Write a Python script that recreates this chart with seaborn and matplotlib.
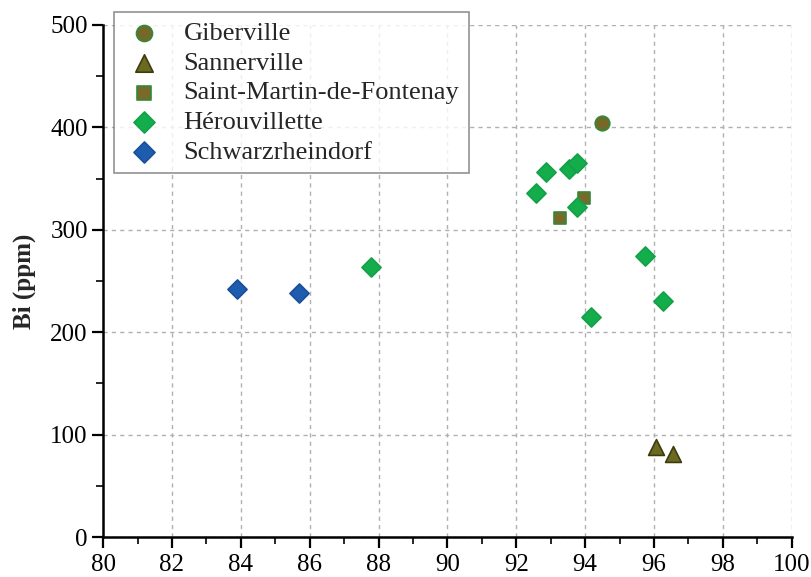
import pandas as pd
import matplotlib.pyplot as plt
import seaborn as sns

# Data (x has no label in the source)
giberville_x = [94.5]
giberville_y = [404]

sannerville_x = [96.05, 96.55]
sannerville_y = [88, 81]

saint_martin_x = [93.27, 93.96]
saint_martin_y = [311, 331]

herouvillette_x = [92.57, 92.86, 93.53, 93.76, 93.76, 87.78, 95.73, 96.26, 94.17]
herouvillette_y = [336, 356, 359, 365, 322, 264, 274, 230, 215]

schwarz_x = [83.89, 85.69]
schwarz_y = [242, 238]

sns.set_theme(style="ticks")
plt.rcParams['font.family'] = ['Liberation Serif', 'DejaVu Serif']

fig = plt.figure(figsize=(8.12, 5.77), dpi=100)
ax = fig.add_axes([0.127, 0.069, 0.848, 0.888])

groups = [
    ("Giberville", giberville_x, giberville_y, "o", "#75692a", "#2f8a3a", 110),
    ("Sannerville", sannerville_x, sannerville_y, "^", "#6b6a1e", "#3c3c10", 130),
    ("Saint-Martin-de-Fontenay", saint_martin_x, saint_martin_y, "s", "#7a6a2a", "#2f8a3a", 85),
    ("Hérouvillette", herouvillette_x, herouvillette_y, "D", "#13ad4b", "#13a048", 95),
    ("Schwarzrheindorf", schwarz_x, schwarz_y, "D", "#1d5cae", "#1a4f98", 95),
]

for name, xs, ys, mk, fc, ec, size in groups:
    df = pd.DataFrame({"x": xs, "y": ys})
    sns.scatterplot(data=df, x="x", y="y", marker=mk, color=fc, edgecolor=ec,
                    linewidth=1.2, s=size, label=name, ax=ax, zorder=3)

ax.set_xlim(80, 100)
ax.set_ylim(0, 500)
ax.set_xticks(range(80, 101, 2))
ax.set_xticks(range(81, 100, 2), minor=True)
ax.set_yticks(range(0, 501, 100))
ax.set_yticks(range(50, 500, 100), minor=True)
ax.set_xlabel("")
ax.set_ylabel("Bi (ppm)", fontsize=18, fontweight="bold", labelpad=10)

ax.grid(True, which="major", color="#b0b0b0", linestyle=(0, (3, 3)), linewidth=1)
ax.set_axisbelow(True)

for side in ["top", "right"]:
    ax.spines[side].set_visible(False)
for side in ["left", "bottom"]:
    ax.spines[side].set_linewidth(1.8)
    ax.spines[side].set_color("black")

ax.tick_params(axis="both", which="major", direction="out", length=8, width=1.6,
               labelsize=18, colors="black")
ax.tick_params(axis="both", which="minor", direction="out", length=5, width=1.4)
ax.tick_params(axis="x", pad=4)
ax.tick_params(axis="y", pad=3)

leg = ax.legend(loc="upper left", bbox_to_anchor=(0.14, 0.979),
                bbox_transform=fig.transFigure, fontsize=19, frameon=True,
                fancybox=False, borderpad=0.35, labelspacing=0.24,
                handlelength=1.6, handletextpad=0.7, borderaxespad=0,
                markerscale=1.1)
leg.get_frame().set_edgecolor("#777777")
leg.get_frame().set_linewidth(1.2)

plt.savefig("out.png", dpi=100)
